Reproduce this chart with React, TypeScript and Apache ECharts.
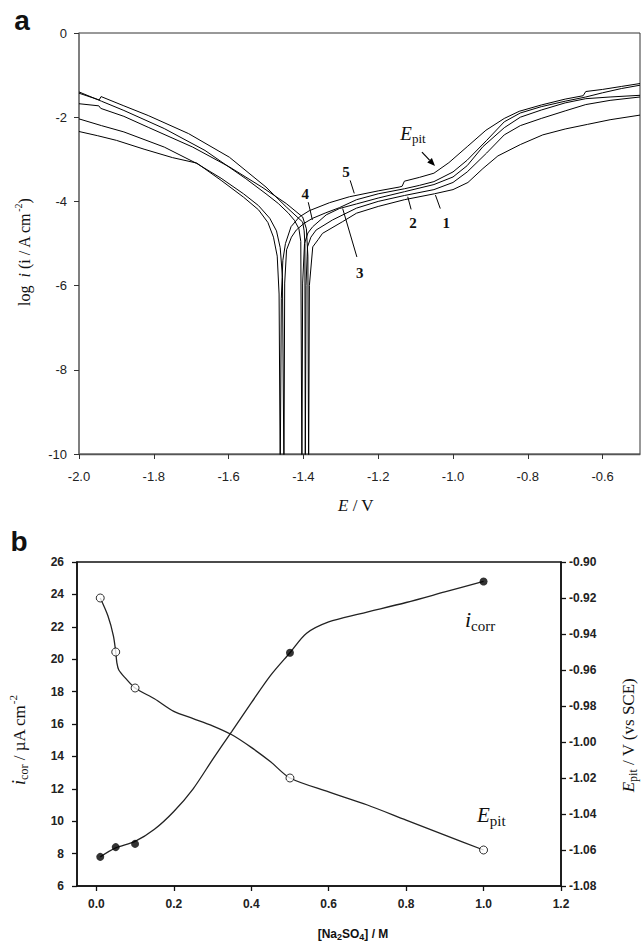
import React, { useEffect, useRef } from "react";
import * as echarts from "echarts";

// ---- Panel (a): polarization curves, points are [E / V, log i] ----
const curve1: number[][] = [
  [-2.0, -1.68], [-1.947, -1.73], [-1.942, -1.79], [-1.88, -1.98], [-1.815, -2.24], [-1.696, -2.71],
  [-1.598, -3.18], [-1.511, -3.66], [-1.446, -4.05], [-1.402, -4.37], [-1.392, -4.65], [-1.388, -5.3],
  [-1.386, -10.5],
  [-1.384, -6.0], [-1.375, -5.08], [-1.36, -4.9], [-1.349, -4.76], [-1.295, -4.48], [-1.258, -4.28],
  [-1.2, -4.12], [-1.13, -3.96], [-1.05, -3.82], [-1.0, -3.72], [-0.96, -3.55], [-0.92, -3.22],
  [-0.88, -2.92], [-0.82, -2.65], [-0.76, -2.42], [-0.7, -2.28], [-0.64, -2.17], [-0.58, -2.06], [-0.5, -1.95],
];
const curve2: number[][] = [
  [-2.0, -1.43], [-1.946, -1.59], [-1.941, -1.51], [-1.88, -1.73], [-1.815, -1.96], [-1.707, -2.39],
  [-1.598, -2.95], [-1.5, -3.66], [-1.446, -4.13], [-1.402, -4.49], [-1.398, -4.7], [-1.396, -5.0],
  [-1.395, -10.5],
  [-1.393, -6.0], [-1.389, -5.08], [-1.38, -4.85], [-1.366, -4.68], [-1.322, -4.44], [-1.258, -4.16],
  [-1.2, -4.0], [-1.13, -3.86], [-1.051, -3.72], [-1.0, -3.55], [-0.962, -3.3], [-0.91, -2.85],
  [-0.863, -2.42], [-0.82, -2.2], [-0.764, -2.03], [-0.7, -1.85], [-0.645, -1.7], [-0.58, -1.6], [-0.5, -1.52],
];
const curve3: number[][] = [
  [-2.0, -1.4], [-1.94, -1.62], [-1.88, -1.84], [-1.772, -2.27], [-1.663, -2.79], [-1.554, -3.46],
  [-1.5, -3.82], [-1.467, -4.05], [-1.44, -4.28], [-1.424, -4.45], [-1.412, -4.65], [-1.407, -4.95],
  [-1.404, -10.5],
  [-1.402, -5.94], [-1.397, -5.0], [-1.388, -4.75], [-1.375, -4.6], [-1.339, -4.32], [-1.304, -4.17],
  [-1.258, -4.06], [-1.2, -3.92], [-1.13, -3.77], [-1.051, -3.6], [-1.0, -3.42], [-0.962, -3.15],
  [-0.92, -2.7], [-0.863, -2.25], [-0.82, -2.0], [-0.764, -1.83], [-0.7, -1.66], [-0.645, -1.56],
  [-0.58, -1.52], [-0.5, -1.48],
];
const curve4: number[][] = [
  [-2.0, -2.04], [-1.94, -2.2], [-1.88, -2.35], [-1.772, -2.71], [-1.685, -3.1], [-1.62, -3.45],
  [-1.56, -3.82], [-1.52, -4.1], [-1.49, -4.4], [-1.472, -4.7], [-1.462, -5.1], [-1.456, -5.8],
  [-1.452, -10.5],
  [-1.45, -5.94], [-1.445, -5.15], [-1.432, -4.85], [-1.419, -4.68], [-1.398, -4.52], [-1.375, -4.4],
  [-1.34, -4.27], [-1.304, -4.15], [-1.258, -3.96], [-1.2, -3.82], [-1.13, -3.7], [-1.09, -3.62],
  [-1.051, -3.53], [-1.0, -3.3], [-0.962, -3.02], [-0.91, -2.55], [-0.863, -2.11], [-0.82, -1.9],
  [-0.764, -1.75], [-0.7, -1.62], [-0.645, -1.52], [-0.6, -1.42], [-0.55, -1.32], [-0.5, -1.24],
];
const curve5: number[][] = [
  [-2.0, -2.34], [-1.95, -2.44], [-1.9, -2.55], [-1.826, -2.76], [-1.75, -2.96], [-1.685, -3.09],
  [-1.62, -3.5], [-1.56, -3.9], [-1.52, -4.2], [-1.495, -4.5], [-1.48, -4.85], [-1.47, -5.3],
  [-1.465, -6.2], [-1.462, -10.5],
  [-1.459, -6.3], [-1.455, -5.4], [-1.448, -5.0], [-1.433, -4.6], [-1.411, -4.37], [-1.384, -4.22],
  [-1.33, -4.03], [-1.277, -3.89], [-1.2, -3.75], [-1.144, -3.66], [-1.136, -3.64], [-1.13, -3.52],
  [-1.09, -3.43], [-1.051, -3.33], [-1.011, -3.08], [-0.962, -2.7], [-0.912, -2.31], [-0.863, -2.03],
  [-0.823, -1.86], [-0.764, -1.71], [-0.7, -1.57], [-0.652, -1.49], [-0.645, -1.39], [-0.6, -1.34],
  [-0.55, -1.27], [-0.5, -1.2],
];
const curves = [curve1, curve2, curve3, curve4, curve5];

// curve number labels with leader lines: [label, text pos, leader start, leader end] in [E, log i]
const curveTags: [string, number[], number[], number[]][] = [
  ["1", [-1.018, -4.51], [-1.047, -3.85], [-1.034, -4.17]],
  ["2", [-1.107, -4.51], [-1.121, -3.89], [-1.112, -4.19]],
  ["3", [-1.249, -5.7], [-1.295, -4.17], [-1.257, -5.32]],
  ["4", [-1.395, -3.83], [-1.387, -4.02], [-1.376, -4.44]],
  ["5", [-1.286, -3.3], [-1.275, -3.5], [-1.264, -3.81]],
];
const epitTagA = [-1.107, -2.38];
const epitArrowA = [[-1.083, -2.83], [-1.048, -3.16]];

const xTicksA = [-2.0, -1.8, -1.6, -1.4, -1.2, -1.0, -0.8, -0.6];

// ---- Panel (b): corrosion current and pitting potential vs [Na2SO4] ----
const conc = [0.01, 0.05, 0.1, 0.5, 1.0];
const icorr = [7.8, 8.4, 8.6, 20.4, 24.8];
const epit = [-0.92, -0.95, -0.97, -1.02, -1.06];

// fitted curves drawn through the points
const icorrLineX = [0.01, 0.05, 0.1, 0.15, 0.2, 0.25, 0.3, 0.35, 0.4, 0.45, 0.5, 0.543, 0.6, 0.68, 0.8, 0.9, 1.0];
const icorrLineY = [7.8, 8.35, 8.75, 9.5, 10.6, 12.0, 13.8, 15.55, 17.3, 19.0, 20.4, 21.6, 22.3, 22.8, 23.5, 24.15, 24.8];
const epitLineX = [0.01, 0.03, 0.044, 0.05, 0.053, 0.058, 0.075, 0.1, 0.15, 0.2, 0.25, 0.3, 0.35, 0.4, 0.45, 0.5, 0.6, 0.7, 0.8, 0.9, 1.0];
const epitLineY = [-0.92, -0.93, -0.941, -0.95, -0.956, -0.96, -0.9645, -0.97, -0.976, -0.983, -0.987, -0.991, -0.996, -1.003, -1.011, -1.02, -1.0277, -1.035, -1.0434, -1.0517, -1.06];

const xTicksB = [0, 0.2, 0.4, 0.6, 0.8, 1.0, 1.2];
const yRightTicksB = [-1.08, -1.06, -1.04, -1.02, -1.0, -0.98, -0.96, -0.94, -0.92, -0.9];
const icorrTagB = [0.991, 22.42];
const epitTagB = [1.02, 10.38];

const SERIF = "'Liberation Serif', 'Times New Roman', serif";
const SANS = "'Liberation Sans', Arial, sans-serif";

type Part = { t: string; size: number; italic?: boolean; bold?: boolean; family?: string; dy?: number };

const fontOf = (p: Part) =>
  `${p.italic ? "italic " : ""}${p.bold ? "bold " : ""}${p.size}px ${p.family || SERIF}`;

let measureCtx: CanvasRenderingContext2D | null = null;
const measure = (p: Part) => {
  if (!measureCtx) measureCtx = document.createElement("canvas").getContext("2d");
  measureCtx!.font = fontOf(p);
  return measureCtx!.measureText(p.t).width;
};

// A run of text fragments (for italics, sub- and superscripts), centred at (x, y)
function textRun(parts: Part[], x: number, y: number, rotation = 0) {
  const widths = parts.map(measure);
  const total = widths.reduce((a, b) => a + b, 0);
  let cx = -total / 2;
  const children = parts.map((p, i) => {
    const el = {
      type: "text",
      x: cx,
      y: p.dy || 0,
      silent: true,
      style: {
        text: p.t,
        font: fontOf(p),
        fill: "#111",
        textAlign: "left",
        textVerticalAlign: "middle",
        align: "left",
        verticalAlign: "middle",
      },
    };
    cx += widths[i];
    return el;
  });
  return { type: "group", x, y, rotation, silent: true, children };
}

export default function App() {
  const ref = useRef<HTMLDivElement>(null);

  useEffect(() => {
    if (!ref.current) return;
    const chart = echarts.init(ref.current, null, { renderer: "svg" });

    const curveSeries = curves.map((c, i) => ({
      type: "line",
      name: `curve ${i + 1}`,
      xAxisIndex: 0,
      yAxisIndex: 0,
      data: c,
      showSymbol: false,
      clip: true,
      lineStyle: { color: "#000", width: 1 },
    }));

    chart.setOption({
      animation: false,
      backgroundColor: "#fff",
      grid: [
        { left: 79, top: 33, width: 561, height: 421, show: true, borderColor: "#333", borderWidth: 1 },
        { left: 77, top: 562, width: 484, height: 324, show: true, borderColor: "#111", borderWidth: 1.5 },
      ],
      xAxis: [
        {
          gridIndex: 0,
          type: "value",
          min: -2.0,
          max: -0.5,
          interval: 0.2,
          axisLine: { onZero: false, lineStyle: { color: "#555", width: 1.3 } },
          axisTick: { inside: false, length: 5, lineStyle: { color: "#333" }, customValues: xTicksA },
          axisLabel: {
            customValues: xTicksA,
            formatter: (v: number) => v.toFixed(1),
            margin: 16,
            fontSize: 13,
            color: "#222",
            fontFamily: SANS,
          },
          splitLine: { show: false },
        },
        {
          gridIndex: 1,
          type: "value",
          min: -0.05,
          max: 1.2,
          axisLine: { onZero: false, lineStyle: { color: "#111", width: 1.5 } },
          axisTick: { inside: false, length: 5, lineStyle: { color: "#111", width: 1.3 }, customValues: xTicksB },
          axisLabel: {
            customValues: xTicksB,
            formatter: (v: number) => v.toFixed(1),
            margin: 12,
            fontSize: 12,
            fontWeight: "bold",
            color: "#222",
            fontFamily: SANS,
          },
          splitLine: { show: false },
        },
      ],
      yAxis: [
        {
          gridIndex: 0,
          type: "value",
          min: -10,
          max: 0,
          interval: 2,
          axisLine: { show: true, onZero: false, lineStyle: { color: "#777", width: 1.5 } },
          axisTick: { show: true, inside: false, length: 5, lineStyle: { color: "#333" } },
          axisLabel: { margin: 12, fontSize: 13, color: "#222", fontFamily: SANS },
          splitLine: { show: false },
        },
        {
          gridIndex: 1,
          type: "value",
          position: "left",
          min: 6,
          max: 26,
          interval: 2,
          axisLine: { show: true, onZero: false, lineStyle: { color: "#111", width: 1.5 } },
          axisTick: { show: true, inside: false, length: 5, lineStyle: { color: "#111", width: 1.3 } },
          axisLabel: { margin: 13, fontSize: 12, fontWeight: "bold", color: "#222", fontFamily: SANS },
          splitLine: { show: false },
        },
        {
          gridIndex: 1,
          type: "value",
          position: "right",
          min: -1.08,
          max: -0.9,
          axisLine: { show: true, onZero: false, lineStyle: { color: "#111", width: 1.5 } },
          axisTick: { show: true, inside: false, length: 5, lineStyle: { color: "#111", width: 1.3 }, customValues: yRightTicksB },
          axisLabel: {
            customValues: yRightTicksB,
            formatter: (v: number) => v.toFixed(2),
            margin: 8,
            fontSize: 12,
            fontWeight: "bold",
            color: "#222",
            fontFamily: SANS,
          },
          splitLine: { show: false },
        },
      ],
      series: [
        ...curveSeries,
        {
          type: "line",
          name: "icorr fit",
          xAxisIndex: 1,
          yAxisIndex: 1,
          data: icorrLineX.map((x, i) => [x, icorrLineY[i]]),
          showSymbol: false,
          smooth: 0.3,
          lineStyle: { color: "#222", width: 1.3 },
        },
        {
          type: "line",
          name: "Epit fit",
          xAxisIndex: 1,
          yAxisIndex: 2,
          data: epitLineX.map((x, i) => [x, epitLineY[i]]),
          showSymbol: false,
          smooth: 0.3,
          lineStyle: { color: "#222", width: 1.3 },
        },
        {
          type: "scatter",
          name: "icorr",
          xAxisIndex: 1,
          yAxisIndex: 1,
          data: conc.map((x, i) => [x, icorr[i]]),
          symbol: "circle",
          symbolSize: 8,
          itemStyle: { color: "#000" },
          z: 5,
        },
        {
          type: "scatter",
          name: "Epit",
          xAxisIndex: 1,
          yAxisIndex: 2,
          data: conc.map((x, i) => [x, epit[i]]),
          symbol: "circle",
          symbolSize: 8,
          itemStyle: { color: "#fff", borderColor: "#000", borderWidth: 1 },
          z: 5,
        },
      ],
    });

    const pa = (p: number[]) => chart.convertToPixel({ gridIndex: 0 } as any, p) as number[];
    const pbL = (p: number[]) => chart.convertToPixel({ xAxisIndex: 1, yAxisIndex: 1 } as any, p) as number[];

    const graphics: any[] = [];

    // panel letters
    graphics.push(textRun([{ t: "a", size: 28, bold: true, family: SANS }], 22, 20));
    graphics.push(textRun([{ t: "b", size: 28, bold: true, family: SANS }], 19, 541));

    // panel (a) axis titles
    graphics.push(
      textRun(
        [
          { t: "log  ", size: 16 },
          { t: "i", size: 16, italic: true },
          { t: " (i / A cm", size: 16 },
          { t: "-2", size: 10, dy: -6 },
          { t: ")", size: 16 },
        ],
        24,
        252,
        Math.PI / 2
      )
    );
    graphics.push(textRun([{ t: "E", size: 17, italic: true }, { t: " / V", size: 17 }], 356, 505));

    // curve numbers and leader lines
    curveTags.forEach(([n, at, from, to]) => {
      const p = pa(at);
      const a = pa(from);
      const b = pa(to);
      graphics.push(textRun([{ t: n, size: 15, bold: true }], p[0], p[1]));
      graphics.push({
        type: "line",
        silent: true,
        shape: { x1: a[0], y1: a[1], x2: b[0], y2: b[1] },
        style: { stroke: "#000", lineWidth: 1 },
      });
    });

    // E_pit marker with arrow
    const et = pa(epitTagA);
    graphics.push(textRun([{ t: "E", size: 19, italic: true }, { t: "pit", size: 13, dy: 5 }], et[0], et[1]));
    const t0 = pa(epitArrowA[0]);
    const t1 = pa(epitArrowA[1]);
    const dx = t1[0] - t0[0];
    const dy = t1[1] - t0[1];
    const len = Math.hypot(dx, dy);
    const ux = dx / len;
    const uy = dy / len;
    const headL = 8;
    const headW = 3.2;
    const bx = t1[0] - ux * headL;
    const by = t1[1] - uy * headL;
    graphics.push({
      type: "line",
      silent: true,
      shape: { x1: t0[0], y1: t0[1], x2: bx, y2: by },
      style: { stroke: "#000", lineWidth: 1.2 },
    });
    graphics.push({
      type: "polygon",
      silent: true,
      shape: {
        points: [
          [t1[0], t1[1]],
          [bx - uy * headW, by + ux * headW],
          [bx + uy * headW, by - ux * headW],
        ],
      },
      style: { fill: "#000" },
    });

    // panel (b) axis titles
    graphics.push(
      textRun(
        [
          { t: "i", size: 18, italic: true },
          { t: "cor", size: 12, dy: 5 },
          { t: " / µA cm", size: 17 },
          { t: "-2", size: 11, dy: -6 },
        ],
        19,
        740,
        Math.PI / 2
      )
    );
    graphics.push(
      textRun(
        [
          { t: "E", size: 17, italic: true },
          { t: "pit", size: 12, dy: 5 },
          { t: " / V (vs SCE)", size: 17 },
        ],
        628,
        735,
        Math.PI / 2
      )
    );
    graphics.push(
      textRun(
        [
          { t: "[Na", size: 12, bold: true, family: SANS },
          { t: "2", size: 9, bold: true, family: SANS, dy: 3 },
          { t: "SO", size: 12, bold: true, family: SANS },
          { t: "4", size: 9, bold: true, family: SANS, dy: 3 },
          { t: "] / M", size: 12, bold: true, family: SANS },
        ],
        353,
        934
      )
    );

    // series tags
    const it = pbL(icorrTagB);
    graphics.push(textRun([{ t: "i", size: 22, italic: true }, { t: "corr", size: 15, dy: 6 }], it[0], it[1]));
    const ep = pbL(epitTagB);
    graphics.push(textRun([{ t: "E", size: 21, italic: true }, { t: "pit", size: 15, dy: 6 }], ep[0], ep[1]));

    chart.setOption({ graphic: graphics });

    return () => chart.dispose();
  }, []);

  return (
    <div
      ref={ref}
      style={{ position: "absolute", left: 0, top: 0, width: 641, height: 944, background: "#fff" }}
    />
  );
}
